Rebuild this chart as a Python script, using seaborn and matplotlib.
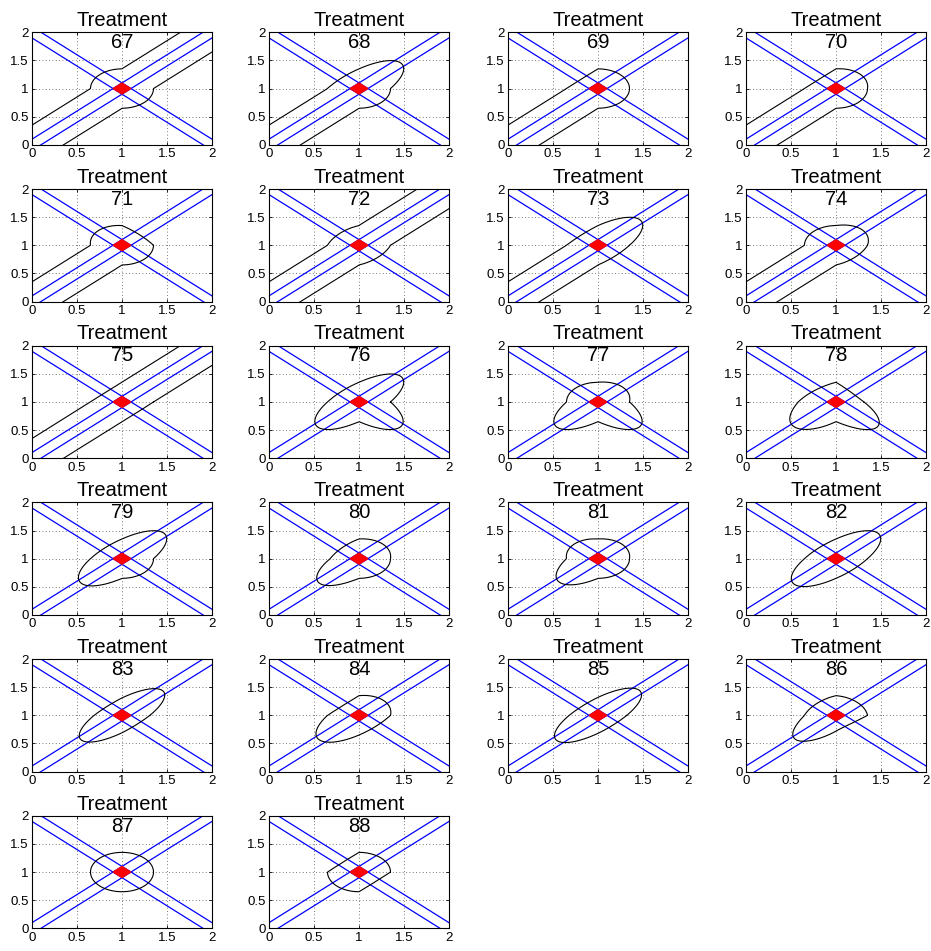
import numpy as np
import pandas as pd
import matplotlib
matplotlib.use("Agg")
import matplotlib.pyplot as plt
import seaborn as sns

# Treatment ids, one panel each
treatments = list(range(67, 89))

inf = np.inf
# Reach of each treatment's black region along the four diagonal directions
# from the centre point (up-right, up-left, down-left, down-right); inf = open band
reach_ur = [inf, 0.65, 0.35, 0.37, 0.27, inf, 0.65, 0.40, inf, 0.65, 0.38,
            0.24, 0.65, 0.37, 0.37, 0.65, 0.63, 0.38, 0.64, 0.33, 0.35, 0.35]
reach_ul = [0.35, 0.27, 0.25, 0.25, 0.37, 0.30, 0.26, 0.35, 0.25, 0.27, 0.35,
            0.31, 0.27, 0.27, 0.37, 0.27, 0.23, 0.25, 0.24, 0.30, 0.35, 0.25]
reach_ll = [inf, inf, inf, inf, inf, inf, inf, inf, inf, 0.64, 0.64,
            0.64, 0.63, 0.62, 0.60, 0.65, 0.63, 0.62, 0.64, 0.62, 0.35, 0.35]
reach_lr = [0.35, 0.35, 0.35, 0.35, 0.35, 0.30, 0.27, 0.30, 0.25, 0.64, 0.64,
            0.64, 0.35, 0.35, 0.35, 0.27, 0.23, 0.27, 0.24, 0.22, 0.35, 0.25]
# Where the region crosses the horizontal / vertical through the centre
radius_right = [0.35] * 11 + [0.31, 0.35, 0.35, 0.35, 0.35, 0.31, 0.35, 0.32, 0.35, 0.35, 0.35]
radius_up    = [0.35] * 11 + [0.35, 0.35, 0.35, 0.35, 0.35, 0.31, 0.35, 0.32, 0.35, 0.35, 0.35]
radius_left  = [0.35] * 11 + [0.42, 0.35, 0.32, 0.35, 0.35, 0.31, 0.35, 0.32, 0.35, 0.35, 0.35]
radius_down  = [0.35] * 11 + [0.35, 0.35, 0.35, 0.35, 0.35, 0.31, 0.35, 0.32, 0.28, 0.35, 0.35]

# Reference point and width of the blue tolerance bands
centre = (1.0, 1.0)
margin = 0.1

ticks = [0, 0.5, 1, 1.5, 2]
tick_labels = ["0", "0.5", "1", "1.5", "2"]

sns.set_style("white")
plt.rcParams["font.family"] = ["Liberation Sans", "DejaVu Sans"]
plt.rcParams["text.color"] = "black"
plt.rcParams["xtick.color"] = "black"
plt.rcParams["ytick.color"] = "black"
plt.rcParams["axes.labelcolor"] = "black"


def region_outline(reach, radii, n=2400, cap=50.0):
    """Closed outline built quadrant by quadrant from diagonal reach and axis radii."""
    cx, cy = centre
    theta = np.linspace(0, 2 * np.pi, n, endpoint=False)
    k = np.minimum((theta // (np.pi / 2)).astype(int), 3)
    phi = theta - (k * np.pi / 2 + np.pi / 4)
    radii = np.asarray(radii)
    reach = np.asarray(reach)
    r1 = radii[k]
    r2 = radii[(k + 1) % 4]
    d = reach[k]
    s = r1 + (r2 - r1) * (phi + np.pi / 4) / (np.pi / 2)
    inv_a2 = (((r1 + r2) / 2) / d) ** 2
    denom = inv_a2 + 2 * np.sin(phi) ** 2 * (1 - inv_a2)
    g = np.where(denom > 1e-8, 1 / np.sqrt(np.maximum(denom, 1e-12)), cap)
    g = np.minimum(g, cap)
    r = s * g
    x = cx + r * np.cos(theta)
    y = cy + r * np.sin(theta)
    return np.append(x, x[0]), np.append(y, y[0])


# Blue band edges: parallel to the diagonal and to the anti-diagonal through the centre
xs = np.array([-0.5, 2.5])
cx, cy = centre
band_rows = []
for name, sign, off in [("d+", 1, margin), ("d-", 1, -margin),
                        ("a+", -1, margin), ("a-", -1, -margin)]:
    yv = cy + sign * (xs - cx) + off
    for xv, yy in zip(xs, yv):
        band_rows.append({"x": xv, "y": yy, "line": name})
bands = pd.DataFrame(band_rows)

diamond_x = [cx - margin, cx, cx + margin, cx, cx - margin]
diamond_y = [cy, cy + margin, cy, cy - margin, cy]

fig = plt.figure(figsize=(9.31, 9.51), dpi=100)
W, H = 931.0, 951.0
col_left = [32, 269, 508, 746]
row_top = [32.3 + 156.7 * i for i in range(6)]
ax_w, ax_h = 180.0, 112.5

for i, t in enumerate(treatments):
    r, c = divmod(i, 4)
    ax = fig.add_axes([col_left[c] / W, 1 - (row_top[r] + ax_h) / H, ax_w / W, ax_h / H])

    reach = [reach_ur[i], reach_ul[i], reach_ll[i], reach_lr[i]]
    radii = [radius_right[i], radius_up[i], radius_left[i], radius_down[i]]
    ox, oy = region_outline(reach, radii)

    sns.lineplot(data=bands, x="x", y="y", units="line", estimator=None, sort=False,
                 color=(0, 0, 1), lw=0.9, ax=ax, legend=False)
    sns.lineplot(x=ox, y=oy, sort=False, estimator=None, color="black", lw=0.8, ax=ax)
    ax.fill(diamond_x, diamond_y, color=(1, 0, 0), ec=(1, 0, 0), lw=0.8, zorder=5)

    ax.set_xlim(0, 2)
    ax.set_ylim(0, 2)
    ax.set_xticks(ticks)
    ax.set_yticks(ticks)
    ax.set_xticklabels(tick_labels, fontsize=9.5)
    ax.set_yticklabels(tick_labels, fontsize=9.5)
    ax.set_xlabel("")
    ax.set_ylabel("")
    ax.grid(True, color="0.3", linestyle=(0, (1, 3)), lw=0.6)
    ax.tick_params(direction="in", length=2.5, width=0.6, pad=2.5,
                   top=True, right=True, bottom=True, left=True)
    for sp in ax.spines.values():
        sp.set_visible(True)
        sp.set_color("black")
        sp.set_linewidth(0.8)
    ax.set_title(f"Treatment\n{t}", fontsize=14.5, y=0.86, pad=0, linespacing=1.2,
                 color="black")

fig.savefig("out.png", dpi=100)
